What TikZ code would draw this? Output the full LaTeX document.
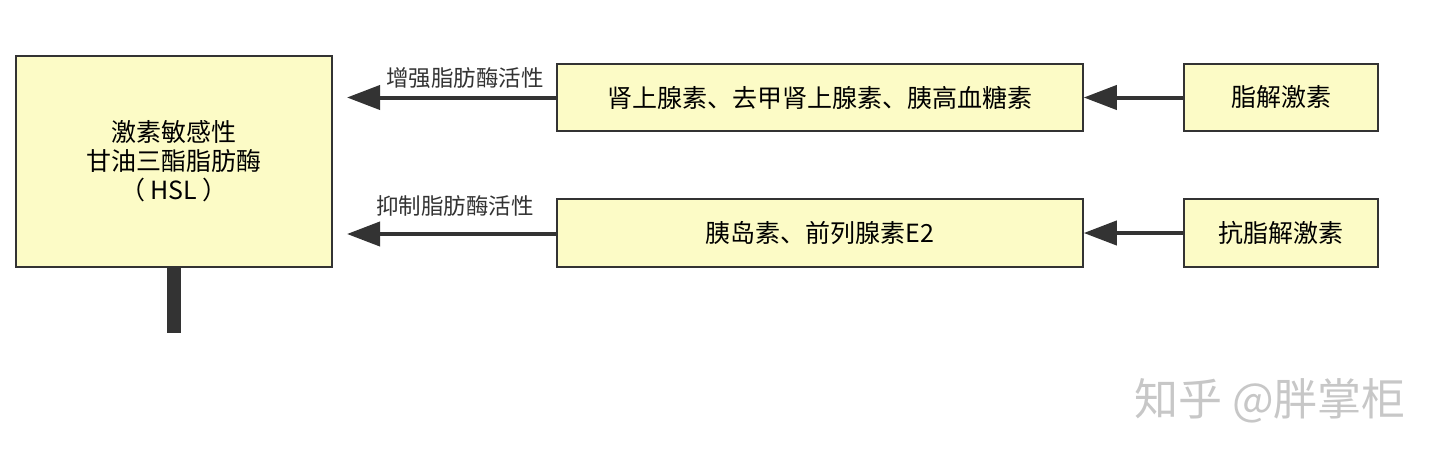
\documentclass[tikz,border=0pt]{standalone}
\usepackage{fontspec}
\setmainfont{Noto Sans CJK SC}
\usetikzlibrary{arrows.meta}
\definecolor{boxfill}{HTML}{FCFBC6}
\definecolor{ink}{HTML}{333333}
\begin{document}
\begin{tikzpicture}[x=1pt,y=-1pt,
  ybox/.style={draw=ink,line width=1.5pt,fill=boxfill,inner sep=0pt,font=\fontsize{25}{29}\selectfont,text=black,align=center},
  conn/.style={draw=ink,line width=4pt,-{Triangle[length=33pt,width=24pt]}},
  lbl/.style={font=\fontsize{22.5}{26}\selectfont,text=ink,inner sep=0pt}]
\useasboundingbox (0,0) rectangle (1440,458);
\node[ybox,minimum width=316pt,minimum height=211pt] (hsl) at (174,161.5) {激素敏感性\\甘油三酯脂肪酶\\（ HSL ）};
\node[ybox,minimum width=526pt,minimum height=67pt] (m1) at (820,97.5) {肾上腺素、去甲肾上腺素、胰高血糖素};
\node[ybox,minimum width=194pt,minimum height=67pt] (r1) at (1281,97.5) {脂解激素};
\node[ybox,minimum width=526pt,minimum height=68pt] (m2) at (820,233) {胰岛素、前列腺素E2};
\node[ybox,minimum width=194pt,minimum height=68pt] (r2) at (1281,233) {抗脂解激素};
\coordinate (t1) at (347,97.5);
\coordinate (t2) at (347,234);
\draw[conn] (m1.west) -- (t1);
\draw[conn] (m2.west |- 0,234) -- (t2);
\draw[conn] (r1.west) -- (m1.east);
\draw[conn] (r2.west) -- (m2.east);
\node[lbl] (l1) at (465,78) {增强脂肪酶活性};
\node[lbl] (l2) at (455,206) {抑制脂肪酶活性};
\coordinate (b1) at (174,267);
\coordinate (b2) at (174,333);
\draw[ink,line width=14pt] (b1) -- (b2);
\node[font=\fontsize{44}{48}\selectfont,text=black!22,inner sep=0pt] (wm) at (1270,401) {知乎 @胖掌柜};
\end{tikzpicture}
\end{document}
